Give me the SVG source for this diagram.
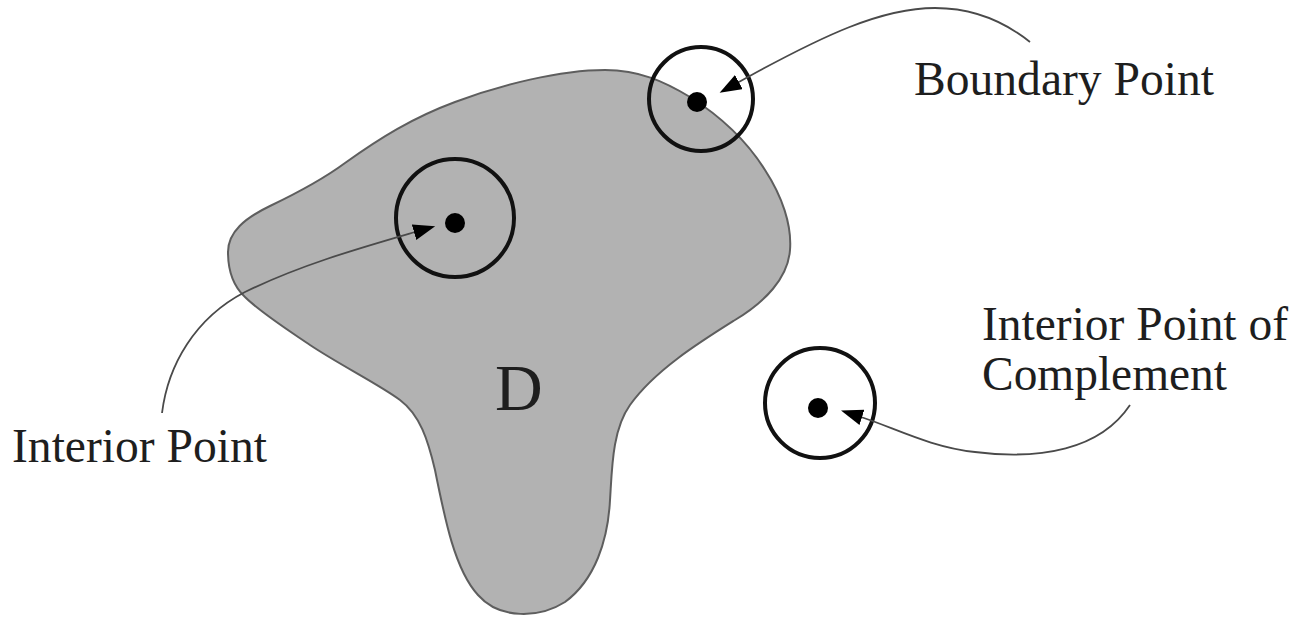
<svg xmlns="http://www.w3.org/2000/svg" width="1309" height="619" viewBox="0 0 1309 619">
<style>
.lbl{font-family:"Liberation Serif","Times New Roman",serif;font-size:48px;fill:#1e1e1e}
.ring{fill:none;stroke:#111;stroke-width:4}
.dot{fill:#000}
.conn{fill:none;stroke:#4a4a4a;stroke-width:1.8}
</style>
<defs>
<marker id="ah" markerUnits="userSpaceOnUse" markerWidth="26" markerHeight="20" refX="1" refY="8" orient="auto">
<path d="M0,0 L22,8 L0,16 Z" fill="#000"/>
</marker>
</defs>
<rect width="1309" height="619" fill="#fff"/>
<g id="region-D">
<path d="M228,252 C228,232 245,218 270,206 C295,194 322,180 345,163 C380,138 412,118 455,102 C500,85 560,70 605,70 C640,70 665,82 690,97 C720,116 745,138 765,170 C782,196 792,225 790,250 C788,278 765,302 735,320 C700,342 655,370 630,405 C612,430 612,470 610,500 C608,540 595,580 565,602 C540,618 500,620 478,595 C455,570 445,520 435,470 C428,440 420,415 400,400 C380,385 340,365 310,345 C285,328 260,312 245,297 C232,285 228,270 228,252 Z" fill="#b2b2b2" stroke="#5e5e5e" stroke-width="2"/>
<text x="495" y="410" style="font-family:'Liberation Serif','Times New Roman',serif;font-size:66px;fill:#1e1e1e">D</text>
</g>
<g id="interior-point">
<circle class="ring" cx="455" cy="218" r="59"/>
<circle class="dot" cx="455" cy="223" r="10"/>
</g>
<g id="boundary-point">
<circle class="ring" cx="701" cy="99" r="52"/>
<circle class="dot" cx="697" cy="102" r="10"/>
</g>
<g id="complement-point">
<circle class="ring" cx="820" cy="403" r="55"/>
<circle class="dot" cx="818" cy="408" r="10"/>
</g>
<g id="connectors">
<path class="conn" marker-end="url(#ah)" d="M1030,42 C1005,22 975,8 935,8 C880,8 820,38 757,72 L738,82.5"/>
<path class="conn" marker-end="url(#ah)" d="M162,413 C168,365 195,318 245,292 C300,265 360,248 415,232"/>
<path class="conn" marker-end="url(#ah)" d="M1130,405 C1100,450 1040,460 975,452 C930,447 895,428 861,417"/>
</g>
<g id="labels">
<text class="lbl" x="914" y="95" textLength="300" lengthAdjust="spacingAndGlyphs">Boundary Point</text>
<text class="lbl" x="982" y="340" textLength="306" lengthAdjust="spacingAndGlyphs">Interior Point of</text>
<text class="lbl" x="982" y="390" textLength="245" lengthAdjust="spacingAndGlyphs">Complement</text>
<text class="lbl" x="12" y="462" textLength="255" lengthAdjust="spacingAndGlyphs">Interior Point</text>
</g>
</svg>
